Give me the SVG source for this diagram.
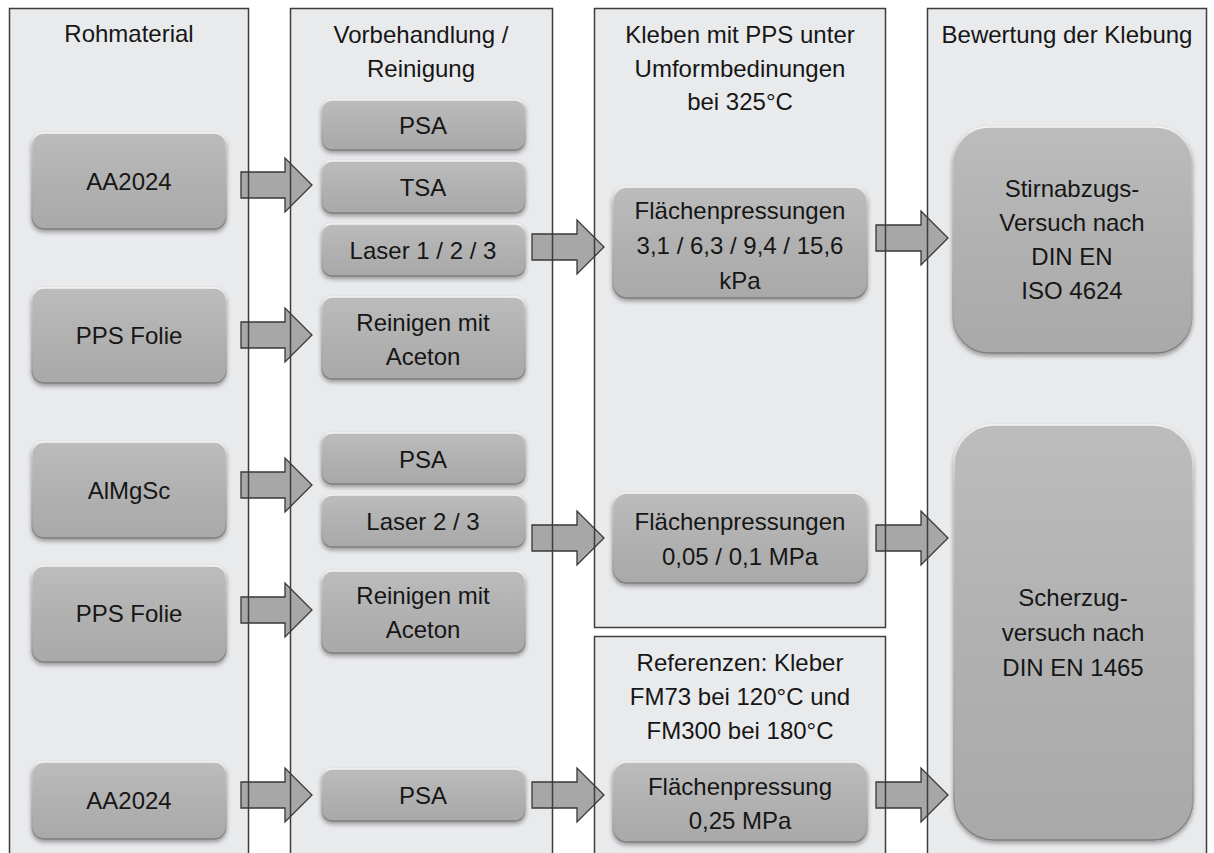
<svg xmlns="http://www.w3.org/2000/svg" width="1214" height="853" viewBox="0 0 1214 853">
  <defs>
    <linearGradient id="boxFill" x1="0" y1="0" x2="0" y2="1">
      <stop offset="0" stop-color="#bcbcbc"/>
      <stop offset="0.5" stop-color="#b1b1b1"/>
      <stop offset="1" stop-color="#a9a9a9"/>
    </linearGradient>
    <linearGradient id="boxEdge" x1="0" y1="0" x2="0" y2="1">
      <stop offset="0" stop-color="#f4f4f4"/>
      <stop offset="0.15" stop-color="#c4c4c4"/>
      <stop offset="0.85" stop-color="#a0a0a0"/>
      <stop offset="1" stop-color="#7c7c7c"/>
    </linearGradient>
    <filter id="shadow" x="-10%" y="-10%" width="120%" height="130%">
      <feDropShadow dx="0" dy="2.5" stdDeviation="2" flood-color="#000" flood-opacity="0.35"/>
    </filter>
  </defs>
  <style>
    .panel { fill: #e9eaec; stroke: none; }
    .frame { fill: none; stroke: #3c3c3c; stroke-width: 1.5; }
    .box { fill: url(#boxFill); stroke: url(#boxEdge); stroke-width: 1.5; filter: url(#shadow); }
    .arrow { fill: #a7a7a7; stroke: #383838; stroke-width: 1.3; stroke-linejoin: miter; }
    text { font-family: "Liberation Sans", Arial, sans-serif; font-size: 24px; fill: #161616; text-anchor: middle; }
  </style>

  <rect width="1214" height="853" fill="#ffffff"/>

  <!-- column backgrounds -->
  <g id="lane-rohmaterial">
    <rect class="panel" x="9.5" y="8.5" width="239" height="860"/>
    <text x="129" y="42">Rohmaterial</text>
  </g>
  <g id="lane-vorbehandlung">
    <rect class="panel" x="290.5" y="8.5" width="262" height="860"/>
    <text x="421" y="43">Vorbehandlung /</text>
    <text x="421" y="77">Reinigung</text>
  </g>
  <g id="lane-kleben">
    <rect class="panel" x="594.5" y="8.5" width="291" height="619"/>
    <text x="740" y="43">Kleben mit PPS unter</text>
    <text x="740" y="77">Umformbedinungen</text>
    <text x="740" y="110">bei 325°C</text>
  </g>
  <g id="lane-referenzen">
    <rect class="panel" x="594.5" y="636.5" width="291" height="240"/>
    <text x="740" y="671">Referenzen: Kleber</text>
    <text x="740" y="705">FM73 bei 120°C und</text>
    <text x="740" y="739">FM300 bei 180°C</text>
  </g>
  <g id="lane-bewertung">
    <rect class="panel" x="927.5" y="8.5" width="279" height="860"/>
    <text x="1067" y="43">Bewertung der Klebung</text>
  </g>

  <!-- raw materials -->
  <g id="aa2024-a"><rect class="box" x="32" y="133" width="194" height="96" rx="12"/><text x="129" y="190">AA2024</text></g>
  <g id="pps-folie-a"><rect class="box" x="32" y="288" width="194" height="95" rx="12"/><text x="129" y="344">PPS Folie</text></g>
  <g id="almgsc"><rect class="box" x="32" y="442" width="194" height="96" rx="12"/><text x="129" y="499">AlMgSc</text></g>
  <g id="pps-folie-b"><rect class="box" x="32" y="566" width="194" height="96" rx="12"/><text x="129" y="622">PPS Folie</text></g>
  <g id="aa2024-b"><rect class="box" x="32" y="762" width="194" height="77" rx="12"/><text x="129" y="809">AA2024</text></g>

  <!-- pretreatment -->
  <g id="psa-a"><rect class="box" x="322" y="100" width="203" height="50" rx="10"/><text x="423" y="134">PSA</text></g>
  <g id="tsa"><rect class="box" x="322" y="161" width="203" height="52" rx="10"/><text x="423" y="196">TSA</text></g>
  <g id="laser-123"><rect class="box" x="322" y="224" width="203" height="52" rx="10"/><text x="423" y="259">Laser 1 / 2 / 3</text></g>
  <g id="aceton-a"><rect class="box" x="322" y="297" width="203" height="82" rx="10"/><text x="423" y="331">Reinigen mit</text><text x="423" y="365">Aceton</text></g>
  <g id="psa-b"><rect class="box" x="322" y="433" width="203" height="51" rx="10"/><text x="423" y="468">PSA</text></g>
  <g id="laser-23"><rect class="box" x="322" y="495" width="203" height="52" rx="10"/><text x="423" y="530">Laser 2 / 3</text></g>
  <g id="aceton-b"><rect class="box" x="322" y="571" width="203" height="82" rx="10"/><text x="423" y="604">Reinigen mit</text><text x="423" y="638">Aceton</text></g>
  <g id="psa-c"><rect class="box" x="322" y="769" width="203" height="52" rx="10"/><text x="423" y="804">PSA</text></g>

  <!-- bonding -->
  <g id="pressung-kpa"><rect class="box" x="613" y="187" width="254" height="111" rx="14"/><text x="740" y="219">Flächenpressungen</text><text x="740" y="254">3,1 / 6,3 / 9,4 / 15,6</text><text x="740" y="289">kPa</text></g>
  <g id="pressung-mpa"><rect class="box" x="613" y="493" width="254" height="90" rx="14"/><text x="740" y="530">Flächenpressungen</text><text x="740" y="565">0,05 / 0,1 MPa</text></g>
  <g id="pressung-ref"><rect class="box" x="613" y="762" width="254" height="80" rx="14"/><text x="740" y="795">Flächenpressung</text><text x="740" y="829">0,25 MPa</text></g>

  <!-- evaluation -->
  <g id="stirnabzug"><rect class="box" x="953" y="127" width="239" height="226" rx="36"/><text x="1072" y="197">Stirnabzugs-</text><text x="1072" y="231">Versuch nach</text><text x="1072" y="265">DIN EN</text><text x="1072" y="299">ISO 4624</text></g>
  <g id="scherzug"><rect class="box" x="954" y="425" width="239" height="415" rx="40"/><text x="1073" y="606">Scherzug-</text><text x="1073" y="641">versuch nach</text><text x="1073" y="676">DIN EN 1465</text></g>

  <!-- block arrows between the stages -->
  <g id="connectors">
    <path class="arrow" d="M241,172 H285 V158 L312,185 L285,212 V198 H241 Z"/>
    <path class="arrow" d="M241,322 H285 V308 L312,335 L285,362 V348 H241 Z"/>
    <path class="arrow" d="M241,472 H285 V458 L312,485 L285,512 V498 H241 Z"/>
    <path class="arrow" d="M241,597 H285 V583 L312,610 L285,637 V623 H241 Z"/>
    <path class="arrow" d="M241,782 H285 V768 L312,795 L285,822 V808 H241 Z"/>
    <path class="arrow" d="M532,234 H577 V220 L604,247 L577,274 V260 H532 Z"/>
    <path class="arrow" d="M532,525 H577 V511 L604,538 L577,565 V551 H532 Z"/>
    <path class="arrow" d="M532,782 H577 V768 L604,795 L577,822 V808 H532 Z"/>
    <path class="arrow" d="M876,225 H921 V211 L948,238 L921,265 V251 H876 Z"/>
    <path class="arrow" d="M876,525 H921 V511 L948,538 L921,565 V551 H876 Z"/>
    <path class="arrow" d="M876,782 H921 V768 L948,795 L921,822 V808 H876 Z"/>
  </g>

  <!-- column outlines, on top of the arrows -->
  <g id="lane-frames">
    <rect class="frame" x="9.5" y="8.5" width="239" height="860"/>
    <rect class="frame" x="290.5" y="8.5" width="262" height="860"/>
    <rect class="frame" x="594.5" y="8.5" width="291" height="619"/>
    <rect class="frame" x="594.5" y="636.5" width="291" height="240"/>
    <rect class="frame" x="927.5" y="8.5" width="279" height="860"/>
  </g>
</svg>
